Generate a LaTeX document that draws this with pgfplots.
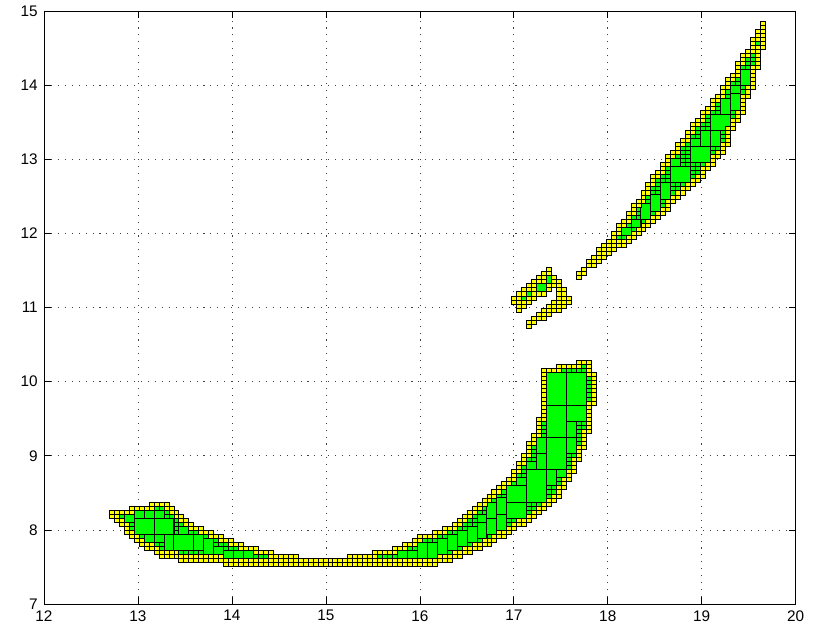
\documentclass[border=0pt]{standalone}
\usepackage{pgfplots}
\pgfplotsset{compat=1.18}
\usepackage{pgfplotstable}
\usepackage{fontspec}
\setmainfont{Liberation Sans}
\definecolor{boxyellow}{RGB}{255,255,0}
\definecolor{boxgreen}{RGB}{0,255,0}

% stack of n unit cells (column c, from row r upward)
\newcount\stkcnt
\newcount\stkmax
\def\drawstackrec{%
  \ifnum\stkcnt<\stkmax\relax
    \pgfpathrectangle{\pgfqpoint{-1.86375pt}{\dimexpr 3.03pt*\stkcnt\relax}}{\pgfqpoint{3.7275pt}{3.03pt}}%
    \advance\stkcnt by 1\relax
    \expandafter\drawstackrec
  \fi}
\pgfdeclareplotmark{ystack}{%
  \pgfmathtruncatemacro\stacknn{\stackn}%
  \stkmax=\stacknn\relax
  \stkcnt=0\relax
  \drawstackrec
  \pgfusepathqfillstroke}
% big box of w x h cells, lower-left at the point
\pgfdeclareplotmark{bigbox}{%
  \pgfmathtruncatemacro\bw{\boxw}%
  \pgfmathtruncatemacro\bh{\boxh}%
  \pgfpathrectangle{\pgfpointorigin}{\pgfqpoint{\dimexpr 3.7275pt*\bw\relax}{\dimexpr 3.03pt*\bh\relax}}%
  \pgfusepathqfillstroke}

% yellow boundary cells: column c, first row r, number of cells n
\pgfplotstableread{
c r n
12 21 2
13 20 3
14 19 2
14 22 1
15 17 3
15 22 1
16 16 2
16 22 2
17 15 2
17 23 1
18 14 2
18 23 1
19 13 2
19 23 1
20 13 2
20 23 2
21 12 2
21 24 1
22 11 2
22 24 1
23 11 2
23 23 2
24 11 2
24 22 2
25 11 2
25 21 2
26 10 2
26 20 2
27 10 2
27 19 2
28 10 2
28 18 2
29 10 2
29 18 1
30 10 2
30 17 2
31 10 2
31 17 1
32 10 2
32 16 2
33 10 2
33 16 1
34 10 2
34 15 2
35 9 2
35 15 1
36 9 2
36 14 2
37 9 2
37 14 1
38 9 2
38 13 2
39 9 2
39 13 1
40 9 2
40 13 1
41 9 2
41 12 2
42 9 2
42 12 1
43 9 2
43 12 1
44 9 4
45 9 3
46 9 3
47 9 3
48 9 3
49 9 3
50 9 2
51 9 2
52 9 2
53 9 2
54 9 2
55 9 2
56 9 2
57 9 2
58 9 2
59 9 2
60 9 3
61 9 3
62 9 3
63 9 3
64 9 3
65 9 4
66 9 2
66 12 1
67 9 2
67 12 1
68 9 2
68 12 1
69 9 2
69 12 2
70 9 2
70 13 1
71 9 2
71 13 2
72 9 2
72 14 1
73 9 2
73 14 2
74 9 2
74 15 2
75 9 2
75 16 1
76 9 2
76 16 1
77 9 2
77 16 2
78 10 2
78 17 1
79 10 2
79 17 2
80 10 2
80 18 1
81 11 2
81 18 2
82 11 2
82 19 2
83 12 2
83 20 2
84 12 2
84 21 2
85 13 2
85 22 2
86 13 2
86 23 2
87 14 2
87 24 2
88 14 2
88 25 2
89 15 2
89 26 2
90 16 2
90 27 2
91 16 2
91 28 2
92 17 2
92 29 2
93 18 2
93 30 3
94 19 2
94 32 3
95 19 2
95 34 3
96 20 2
96 36 4
97 21 2
97 39 3
98 22 2
98 41 5
99 23 2
99 45 13
100 24 2
100 57 1
101 25 2
101 57 1
102 26 3
102 57 2
103 28 3
103 58 1
104 30 3
104 58 1
105 32 4
105 58 1
106 35 4
106 58 2
107 38 5
107 59 1
108 42 8
108 56 4
109 49 8
106 80 2
107 81 2
108 83 2
109 83 3
110 84 4
111 85 4
112 86 4
113 87 5
114 88 2
114 91 3
115 88 2
115 93 2
116 89 2
116 94 3
117 90 2
117 96 3
118 91 2
118 98 2
119 92 2
119 99 3
120 93 2
120 101 3
121 94 2
121 103 3
122 95 2
122 105 2
123 96 2
123 106 3
124 97 3
124 108 3
125 99 2
125 110 2
126 100 2
126 111 3
127 101 2
127 113 2
128 102 2
128 114 3
129 103 2
129 116 3
130 104 2
130 118 2
131 105 3
131 119 3
132 107 2
132 121 2
133 108 3
133 122 3
134 110 2
134 124 2
135 111 3
135 125 3
136 113 5
136 127 3
137 117 3
137 129 2
138 119 3
138 130 4
139 121 5
139 133 3
140 125 3
140 135 2
141 127 6
141 136 4
142 132 6
142 139 3
143 137 7
93 74 2
94 72 5
95 73 2
95 76 2
96 68 2
96 74 2
96 77 2
97 69 2
97 75 5
98 70 2
98 76 1
98 79 2
99 70 3
99 76 1
99 79 3
100 71 3
100 77 2
100 81 2
101 72 3
101 78 3
102 72 8
103 73 5
104 74 2
}\yellowcells

% green inner cells: column c, first row r, number of cells n
\pgfplotstableread{
c r n
14 21 1
15 20 2
16 18 4
17 17 6
18 16 7
19 15 8
20 15 8
21 14 10
22 13 11
23 13 10
24 13 9
25 13 8
26 12 8
27 12 7
28 12 6
29 12 6
30 12 5
31 12 5
32 12 4
33 12 4
34 12 3
35 11 4
36 11 3
37 11 3
38 11 2
39 11 2
40 11 2
41 11 1
42 11 1
43 11 1
66 11 1
67 11 1
68 11 1
69 11 1
70 11 2
71 11 2
72 11 3
73 11 3
74 11 4
75 11 5
76 11 5
77 11 5
78 12 5
79 12 5
80 12 6
81 13 5
82 13 6
83 14 6
84 14 7
85 15 7
86 15 8
87 16 8
88 16 9
89 17 9
90 18 9
91 18 10
92 19 10
93 20 10
94 21 11
95 21 13
96 22 14
97 23 16
98 24 17
99 25 20
100 26 31
101 27 30
102 29 28
103 31 27
104 33 25
105 36 22
106 39 19
107 43 16
108 50 6
114 90 1
115 90 3
116 91 3
117 92 4
118 93 5
119 94 5
120 95 6
121 96 7
122 97 8
123 98 8
124 100 8
125 101 9
126 102 9
127 103 10
128 104 10
129 105 11
130 106 12
131 108 11
132 109 12
133 111 11
134 112 12
135 114 11
136 118 9
137 120 9
138 122 8
139 126 7
140 128 7
141 133 3
142 138 1
95 75 1
96 76 1
98 77 2
99 77 2
100 79 2
}\greencells

% larger green boxes: lower-left column c, row r, width w, height h (cells)
\pgfplotstableread{
c r w h
17 17 4 4
21 17 4 4
17 21 2 2
19 21 2 2
21 21 2 2
19 15 2 2
21 15 2 2
23 13 2 4
25 13 4 4
29 13 2 4
31 12 2 4
33 12 2 2
26 17 2 2
15 20 2 2
35 11 2 2
37 11 2 2
39 11 2 2
70 11 2 2
72 11 2 2
74 11 2 4
76 11 2 4
78 12 2 4
80 13 2 4
82 14 2 4
84 15 2 4
86 16 2 4
88 17 2 4
90 18 2 4
86 20 2 2
88 21 2 4
90 22 2 4
92 21 4 4
92 25 4 4
94 29 2 2
96 25 4 8
96 33 2 2
98 33 2 4
98 37 2 4
100 33 4 8
100 41 4 8
100 49 4 8
104 49 4 8
104 45 4 4
104 41 2 4
104 37 2 4
100 29 2 4
102 31 2 2
115 91 2 2
117 93 2 2
119 95 2 4
121 97 2 4
123 100 2 4
125 104 4 4
125 108 2 2
129 109 4 4
129 113 2 2
131 113 2 4
133 113 2 4
133 117 4 4
135 121 2 4
137 122 2 4
137 126 2 2
139 128 2 4
98 77 2 2
100 79 1 2
}\bigboxes

\begin{document}
\begin{tikzpicture}
\path[use as bounding box] (-33pt,-21pt) rectangle (588.75pt,453pt);
\begin{axis}[
  at={(0pt,0pt)}, anchor=south west,
  x=70.47pt, y=55.594pt,
  xmin=12, xmax=20, ymin=7, ymax=15,
  enlargelimits=false,
  xtick={12,13,...,20}, ytick={7,8,...,15},
  tick align=inside,
  major tick length=5pt,
  tick style={black, line width=0.5pt},
  axis line style={black, line width=0.6pt},
  grid=major,
  major grid style={black!75, line width=0.5pt, dash pattern=on 0.8pt off 4.4pt},
  ticklabel style={font=\fontsize{11.5}{13}\selectfont},
  xticklabel style={yshift=-1.2pt},
  yticklabel style={xshift=-1.2pt},
  /pgf/number format/assume math mode=true,
  clip=false,
]
% green inner cells
\addplot[only marks, scatter, point meta=\thisrow{c},
  mark=ystack, mark options={line width=0.55pt, solid},
  scatter/use mapped color={draw=black, fill=boxgreen},
  visualization depends on={\thisrow{n} \as \stackn}]
  table[x expr={12.08708+0.052872*\thisrow{c}}, y expr={7.01417+0.054503*\thisrow{r}}] {\greencells};
% larger green boxes
\addplot[only marks, scatter, point meta=\thisrow{c},
  mark=bigbox, mark options={line width=0.65pt, solid},
  scatter/use mapped color={draw=black, fill=boxgreen},
  visualization depends on={\thisrow{w} \as \boxw},
  visualization depends on={\thisrow{h} \as \boxh}]
  table[x expr={12.06064+0.052872*\thisrow{c}}, y expr={7.01417+0.054503*\thisrow{r}}] {\bigboxes};
% yellow boundary cells
\addplot[only marks, scatter, point meta=\thisrow{c},
  mark=ystack, mark options={line width=0.55pt, solid},
  scatter/use mapped color={draw=black, fill=boxyellow},
  visualization depends on={\thisrow{n} \as \stackn}]
  table[x expr={12.08708+0.052872*\thisrow{c}}, y expr={7.01417+0.054503*\thisrow{r}}] {\yellowcells};
\end{axis}
\end{tikzpicture}
\end{document}
